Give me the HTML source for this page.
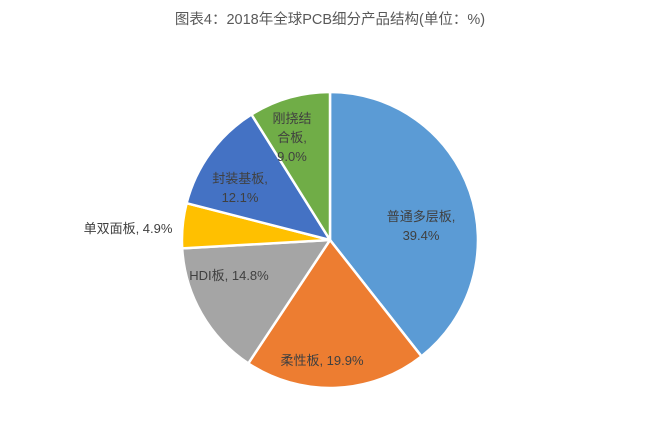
<!DOCTYPE html>
<html><head><meta charset="utf-8"><style>
html,body{margin:0;padding:0;background:#fff;}
svg{display:block;}
text{font-family:"Liberation Sans","Noto Sans CJK SC",sans-serif;}
</style></head><body>
<svg width="659" height="441" viewBox="0 0 659 441" xmlns="http://www.w3.org/2000/svg">
<rect width="659" height="441" fill="#fff"/>
<text x="330" y="24" text-anchor="middle" font-size="14.5" fill="#595959">图表4：2018年全球PCB细分产品结构(单位：%)</text>
<g stroke="#fff" stroke-width="2.5" stroke-linejoin="round">
<path d="M330,240 L330,92 A148,148 0 0 1 421.5,356.3 Z" fill="#5B9BD5"/>
<path d="M330,240 L421.5,356.3 A148,148 0 0 1 248.3,363.4 Z" fill="#ED7D31"/>
<path d="M330,240 L248.3,363.4 A148,148 0 0 1 182.2,248.4 Z" fill="#A5A5A5"/>
<path d="M330,240 L182.2,248.4 A148,148 0 0 1 186.6,203.2 Z" fill="#FFC000"/>
<path d="M330,240 L186.6,203.2 A148,148 0 0 1 251.5,114.5 Z" fill="#4472C4"/>
<path d="M330,240 L251.5,114.5 A148,148 0 0 1 330,92 Z" fill="#70AD47"/>
</g>
<g font-size="13" fill="#404040" text-anchor="middle">
<text x="421" y="221">普通多层板,</text>
<text x="421" y="240">39.4%</text>
<text x="322" y="365">柔性板, 19.9%</text>
<text x="229" y="280">HDI板, 14.8%</text>
<text x="128" y="233">单双面板, 4.9%</text>
<text x="240" y="183">封装基板,</text>
<text x="240" y="202">12.1%</text>
<text x="292" y="123">刚挠结</text>
<text x="292" y="142">合板,</text>
<text x="292" y="161">9.0%</text>
</g>
</svg>
</body></html>
